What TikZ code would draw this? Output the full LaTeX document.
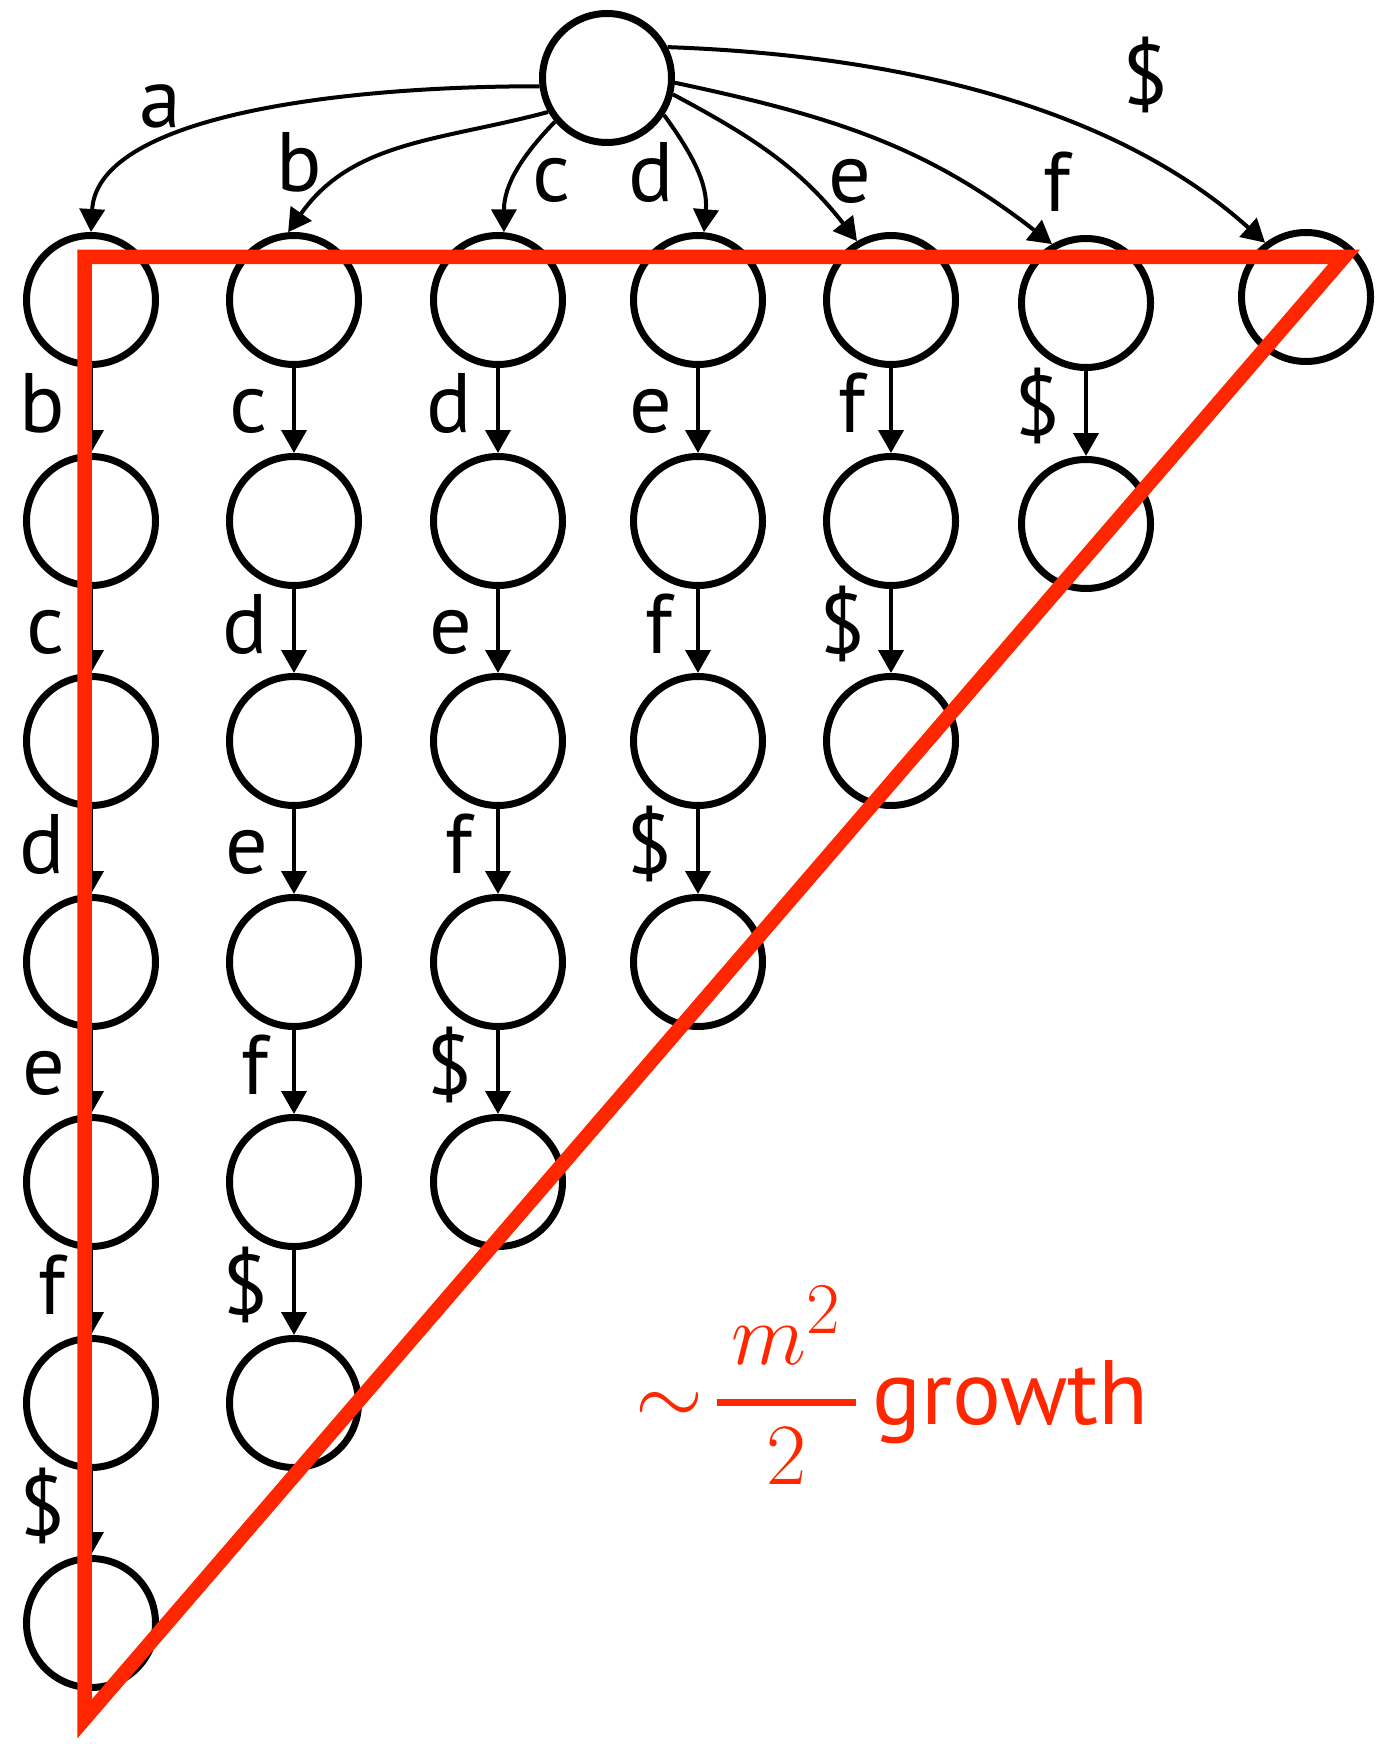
\documentclass[tikz,border=0pt]{standalone}
\usepackage{amsmath}
\usepackage[no-math]{fontspec}
\setmainfont{PT Sans}
\usetikzlibrary{arrows.meta}
\definecolor{redline}{RGB}{255,38,0}

\begin{document}
\begin{tikzpicture}[
    every node/.style={font=\fontsize{24pt}{29pt}\selectfont},
    state/.style={circle, draw, line width=0.07cm, minimum size=1.29cm, inner sep=0pt},
    edge/.style={line width=0.04cm, -{Triangle[length=0.23cm, width=0.25cm]}},
    lab/.style={anchor=base east, inner sep=0pt, xshift=-0.24cm, yshift=-0.22cm},
    toplab/.style={anchor=base, inner sep=0pt},
    bound/.style={redline, line width=0.145cm, line join=miter}
  ]
    \useasboundingbox (0,0) rectangle (13.86,-17.44);

    % root
    \node[state] at (6.07,-0.78) (root) {};

    % first row, one node per starting letter
    \node[state] at (0.91,-3.00) (a1) {};
    \node[state] at (2.94,-3.00) (b1) {};
    \node[state] at (4.98,-3.00) (c1) {};
    \node[state] at (6.98,-3.00) (d1) {};
    \node[state] at (8.91,-3.00) (e1) {};
    \node[state] at (10.86,-3.03) (f1) {};
    \node[state] at (13.06,-2.97) (z1) {};

    % column a
    \node[state] at (0.91,-5.21) (a2) {};
    \node[state] at (0.91,-7.41) (a3) {};
    \node[state] at (0.91,-9.62) (a4) {};
    \node[state] at (0.91,-11.82) (a5) {};
    \node[state] at (0.91,-14.03) (a6) {};
    \node[state] at (0.91,-16.23) (a7) {};

    % column b
    \node[state] at (2.94,-5.21) (b2) {};
    \node[state] at (2.94,-7.41) (b3) {};
    \node[state] at (2.94,-9.62) (b4) {};
    \node[state] at (2.94,-11.82) (b5) {};
    \node[state] at (2.94,-14.03) (b6) {};

    % column c
    \node[state] at (4.98,-5.21) (c2) {};
    \node[state] at (4.98,-7.41) (c3) {};
    \node[state] at (4.98,-9.62) (c4) {};
    \node[state] at (4.98,-11.82) (c5) {};

    % column d
    \node[state] at (6.98,-5.21) (d2) {};
    \node[state] at (6.98,-7.41) (d3) {};
    \node[state] at (6.98,-9.62) (d4) {};

    % column e
    \node[state] at (8.91,-5.21) (e2) {};
    \node[state] at (8.91,-7.41) (e3) {};

    % column f
    \node[state] at (10.86,-5.24) (f2) {};

    % edges out of the root
    \draw[edge] (root.187) to[out=180, in=87, out distance=2.18cm, in distance=1.12cm] (a1.north);
    \draw[edge] (root.210) to[out=195, in=55] (b1.95);
    \draw[edge] (root.220) to[out=226, in=90] (c1.85);
    \draw[edge] (root.-33) to[out=-54, in=85] (d1.85);
    \draw[edge] (root.-14) to[out=-28, in=128] (e1.120);
    \draw[edge] (root.-4) to[out=-12, in=142] (f1.120);
    \draw[edge] (root.27) to[out=-2, in=138, out distance=2.0cm, in distance=2.2cm] (z1.127);

    \node[toplab] at (1.60,-1.28) (la) {a};
    \node[toplab] at (2.99,-1.92) (lb) {b};
    \node[toplab] at (5.52,-2.02) (lc) {c};
    \node[toplab] at (6.51,-2.02) (ld) {d};
    \node[toplab] at (8.50,-2.03) (le) {e};
    \node[toplab] at (10.57,-2.12) (lf) {f};
    \node[toplab] at (11.45,-1.05) (lz) {\$};

    % chains down the columns
    \draw[edge] (a1) -- node[lab] {b} (a2);
    \draw[edge] (a2) -- node[lab] {c} (a3);
    \draw[edge] (a3) -- node[lab] {d} (a4);
    \draw[edge] (a4) -- node[lab] {e} (a5);
    \draw[edge] (a5) -- node[lab] {f} (a6);
    \draw[edge] (a6) -- node[lab] {\$} (a7);

    \draw[edge] (b1) -- node[lab] {c} (b2);
    \draw[edge] (b2) -- node[lab] {d} (b3);
    \draw[edge] (b3) -- node[lab] {e} (b4);
    \draw[edge] (b4) -- node[lab] {f} (b5);
    \draw[edge] (b5) -- node[lab] {\$} (b6);

    \draw[edge] (c1) -- node[lab] {d} (c2);
    \draw[edge] (c2) -- node[lab] {e} (c3);
    \draw[edge] (c3) -- node[lab] {f} (c4);
    \draw[edge] (c4) -- node[lab] {\$} (c5);

    \draw[edge] (d1) -- node[lab] {e} (d2);
    \draw[edge] (d2) -- node[lab] {f} (d3);
    \draw[edge] (d3) -- node[lab] {\$} (d4);

    \draw[edge] (e1) -- node[lab] {f} (e2);
    \draw[edge] (e2) -- node[lab] {\$} (e3);

    \draw[edge] (f1) -- node[lab] {\$} (f2);

    % red triangle over the tree
    \coordinate (tl) at (0.845,-2.57);
    \coordinate (tr) at (13.44,-2.57);
    \coordinate (bl) at (0.845,-17.19);
    \draw[bound] (tl) -- (tr) -- (bl) -- cycle;

    \node[redline, anchor=base west, inner sep=0pt] at (6.35,-14.24) (growth)
      {$\sim$\hspace{2.5pt}{\fontsize{29pt}{35pt}\selectfont$\displaystyle\genfrac{}{}{2pt}{0}{\,m^2\,}{2}$}\hspace{3.5pt}{\fontsize{26pt}{31pt}\selectfont growth}};
\end{tikzpicture}
\end{document}
